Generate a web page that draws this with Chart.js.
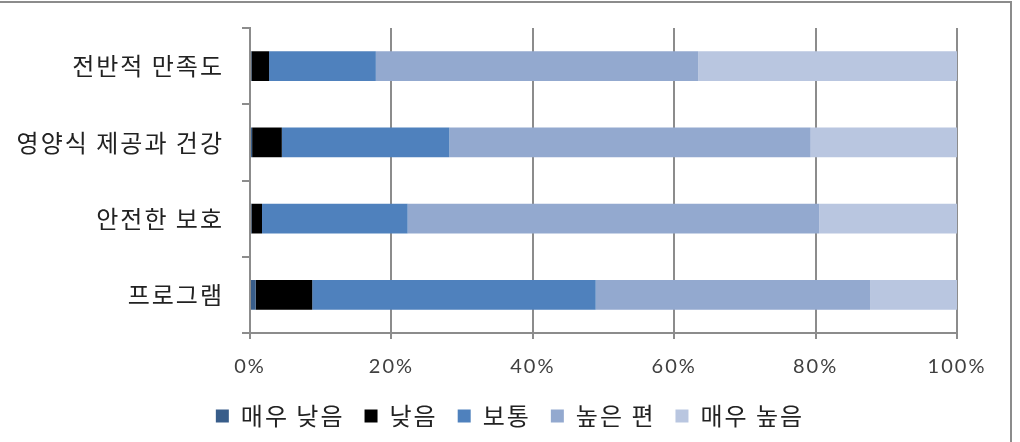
<!DOCTYPE html>
<html>
<head>
<meta charset="utf-8">
<script src="https://cdn.jsdelivr.net/npm/chart.js@4"></script>
<style>
  html, body { margin: 0; padding: 0; background: #fff; }
  #wrap { position: relative; width: 1020px; height: 442px; overflow: hidden; }
  #frame { position: absolute; left: -2px; top: 1px; width: 1012px; height: 460px;
           border-top: 2px solid #8c8c8c; border-right: 2px solid #8c8c8c; }
  canvas { position: absolute; left: 0; top: 0; }
</style>
</head>
<body>
<div id="wrap">
  <div id="frame"></div>
  <canvas id="chart" width="1020" height="442"></canvas>
</div>
<script>
var categories = ['전반적 만족도', '영양식 제공과 건강', '안전한 보호', '프로그램']
var seriesNames = ['매우 낮음', '낮음', '보통', '높은 편', '매우 높음']

var veryLow = [0.2, 0.3, 0.2, 0.8]
var low = [2.5, 4.2, 1.5, 8.0]
var normal = [15.1, 23.7, 20.6, 40.1]
var high = [45.6, 51.1, 58.2, 38.8]
var veryHigh = [36.6, 20.7, 19.5, 12.3]

var xTicks = [0, 20, 40, 60, 80, 100]

var colors = ['#385d8a', '#000000', '#4f81bd', '#93a9cf', '#b9c6e0']
var series = [veryLow, low, normal, high, veryHigh]

const korFont = '"Noto Sans CJK KR", sans-serif'

// the original text is a bit wider spaced than Noto
const spacing = {
  id: 'spacing',
  beforeLayout(chart) { chart.ctx.letterSpacing = '2px' },
  beforeDraw(chart) { chart.ctx.letterSpacing = '2px' }
}

const ctx = document.getElementById('chart')

new Chart(ctx, {
  type: 'bar',
  data: {
    labels: categories,
    datasets: series.map((vals, i) => ({
      label: seriesNames[i],
      data: vals,
      backgroundColor: colors[i],
      borderWidth: 0,
      barPercentage: 0.78,
      categoryPercentage: 0.5
    }))
  },
  plugins: [spacing],
  options: {
    indexAxis: 'y',
    responsive: false,
    animation: false,
    layout: { padding: { left: 0, top: 28, right: 0, bottom: 4 } },
    plugins: {
      tooltip: { enabled: false },
      legend: {
        position: 'bottom',
        labels: {
          color: '#222',
          font: { family: korFont, size: 24 },
          boxWidth: 13,
          boxHeight: 13,
          padding: 20
        }
      }
    },
    scales: {
      x: {
        stacked: true,
        min: 0,
        max: 100,
        afterBuildTicks: (scale) => { scale.ticks = xTicks.map(v => ({ value: v })) },
        afterFit: (scale) => { scale.height = 51 },
        border: { color: '#8c8c8c', width: 2 },
        grid: { color: '#8c8c8c', lineWidth: 2, tickLength: 6 },
        ticks: {
          padding: 16,
          color: '#404040',
          font: { family: 'Lato', size: 20 },
          callback: (v) => v + '%'
        }
      },
      y: {
        stacked: true,
        afterFit: (scale) => {
          scale.width = 250
          scale.paddingTop = 0
          scale.paddingBottom = 0
        },
        border: { color: '#8c8c8c', width: 2 },
        grid: { drawOnChartArea: false, color: '#8c8c8c', lineWidth: 2, tickLength: 8 },
        ticks: {
          padding: 18,
          color: '#222',
          font: { family: korFont, size: 24 }
        }
      },
      // empty space on the right of the plot
      right: {
        type: 'category',
        labels: categories,
        position: 'right',
        afterFit: (scale) => {
          scale.width = 63
          scale.paddingTop = 0
          scale.paddingBottom = 0
        },
        border: { display: false },
        grid: { display: false },
        ticks: { display: false }
      }
    }
  }
})
</script>
</body>
</html>
